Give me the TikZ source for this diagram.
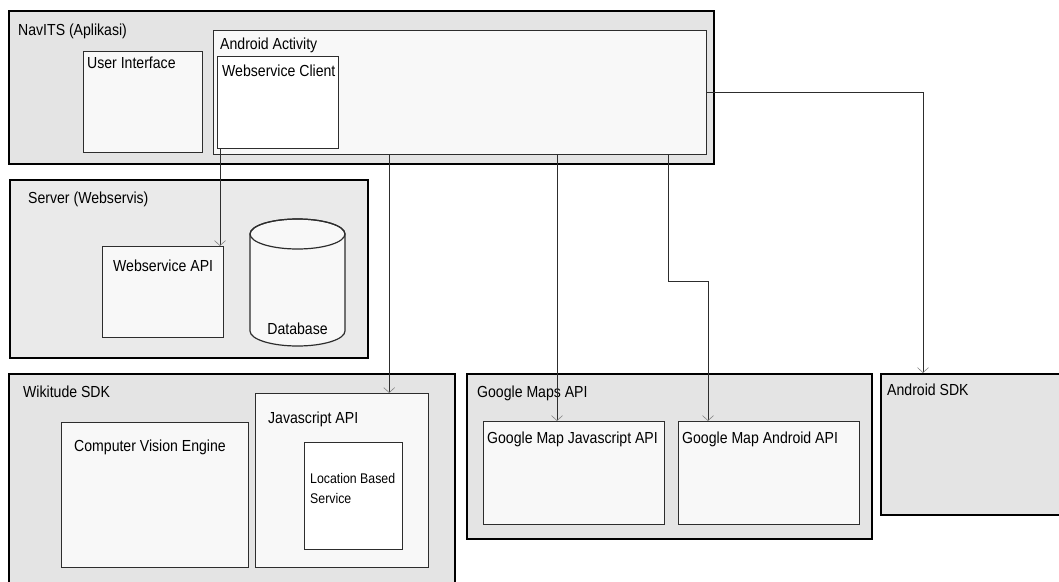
\documentclass[tikz,border=0pt]{standalone}
\usepackage{fontspec}
\setmainfont[FakeStretch=0.88]{Liberation Sans}
\usepackage{tikz}
\usetikzlibrary{arrows.meta}
\definecolor{outerfill}{RGB}{228,228,228}
\definecolor{serverfill}{RGB}{234,234,234}
\definecolor{innerfill}{RGB}{248,248,248}
\definecolor{linie}{RGB}{45,45,45}
\definecolor{pfeilspitze}{RGB}{130,130,130}

\begin{document}
\begin{tikzpicture}[x=1pt, y=-1pt,
    outer/.style={draw=black, line width=2.4pt, fill=outerfill, anchor=north west, inner sep=0pt},
    inner/.style={draw=linie, line width=1.2pt, fill=innerfill, anchor=north west, inner sep=0pt},
    lbl/.style={anchor=base west, inner sep=0pt, font=\fontsize{16}{18}\selectfont},
    small/.style={anchor=base west, inner sep=0pt, font=\fontsize{14}{16}\selectfont},
    conn/.style={draw=linie, line width=0.9pt, -{Straight Barb[length=5pt, width=11pt, line width=0.6pt, color=pfeilspitze]}}]

    \useasboundingbox (0,0) rectangle (1059,581);

        % NavITS
        \node[outer, minimum width=705pt, minimum height=153pt] (navits) at (8,10) {};
        \node[lbl] (navits-t) at ([shift={(10pt,-25pt)}]navits.north west) {NavITS (Aplikasi)};
        \node[inner, minimum width=119pt, minimum height=101pt] (ui) at (83,51) {};
        \node[lbl] (ui-t) at ([shift={(4pt,-17pt)}]ui.north west) {User Interface};
        \node[inner, minimum width=493pt, minimum height=124pt] (activity) at (213,30) {};
        \node[lbl] (activity-t) at ([shift={(7pt,-19pt)}]activity.north west) {Android Activity};
        \node[inner, fill=white, minimum width=121pt, minimum height=92pt] (wsclient) at (217,56) {};
        \node[lbl] (wsclient-t) at ([shift={(5pt,-20pt)}]wsclient.north west) {Webservice Client};

        % Server
        \node[outer, fill=serverfill, minimum width=358pt, minimum height=178pt] (server) at (9,179) {};
        \node[lbl] (server-t) at ([shift={(19pt,-24pt)}]server.north west) {Server (Webservis)};
        \node[inner, minimum width=121pt, minimum height=91pt] (wsapi) at (102,246) {};
        \node[lbl] (wsapi-t) at ([shift={(11pt,-25pt)}]wsapi.north west) {Webservice API};
        % database cylinder
        \coordinate (db) at (297.5,331);
        \draw[draw=linie, line width=1.2pt, fill=innerfill] (250,234) -- (250,331)
            arc[start angle=180, end angle=360, x radius=47.5pt, y radius=15pt] -- (345,234)
            arc[start angle=0, end angle=180, x radius=47.5pt, y radius=15pt] -- cycle;
        \draw[draw=linie, line width=1.2pt] (297.5,234) ellipse [x radius=47.5pt, y radius=15pt];
        \node[lbl, anchor=base] (db-t) at ([yshift=-3pt]db) {Database};

        % Wikitude
        \node[outer, minimum width=446pt, minimum height=230pt] (wikitude) at (8,373) {};
        \node[lbl] (wikitude-t) at ([shift={(15pt,-24pt)}]wikitude.north west) {Wikitude SDK};
        \node[inner, minimum width=187pt, minimum height=145pt] (cve) at (61,422) {};
        \node[lbl] (cve-t) at ([shift={(13pt,-29pt)}]cve.north west) {Computer Vision Engine};
        \node[inner, minimum width=173pt, minimum height=174pt] (jsapi) at (255,393) {};
        \node[lbl] (jsapi-t) at ([shift={(13pt,-30pt)}]jsapi.north west) {Javascript API};
        \node[inner, fill=white, minimum width=98pt, minimum height=107pt] (lbs) at (304,442) {};
        \node[small] (lbs-t1) at ([shift={(6pt,-41pt)}]lbs.north west) {Location Based};
        \node[small] (lbs-t2) at ([shift={(6pt,-61pt)}]lbs.north west) {Service};

        % Google Maps
        \node[outer, minimum width=405pt, minimum height=165pt] (gmaps) at (466,373) {};
        \node[lbl] (gmaps-t) at ([shift={(11pt,-24pt)}]gmaps.north west) {Google Maps API};
        \node[inner, minimum width=181pt, minimum height=103pt] (gmjs) at (483,421) {};
        \node[lbl] (gmjs-t) at ([shift={(4pt,-22pt)}]gmjs.north west) {Google Map Javascript API};
        \node[inner, minimum width=181pt, minimum height=103pt] (gma) at (678,421) {};
        \node[lbl] (gma-t) at ([shift={(4pt,-22pt)}]gma.north west) {Google Map Android API};

        % Android SDK
        \node[outer, minimum width=200pt, minimum height=141pt] (asdk) at (880,373) {};
        \node[lbl] (asdk-t) at ([shift={(7pt,-22pt)}]asdk.north west) {Android SDK};

        % connectors
        \draw[conn] ([xshift=3pt]wsclient.south west) -- ([xshift=3pt]wsclient.south west |- wsapi.north);
        \draw[conn] ([xshift=-40pt]jsapi.north east |- activity.south) -- ([xshift=-40pt]jsapi.north east);
        \draw[conn] ([xshift=74pt]gmjs.north west |- activity.south) -- ([xshift=74pt]gmjs.north west);
        \draw[conn] ([xshift=455pt]activity.south west) -- ++(0,126) -| ([xshift=30pt]gma.north west);
        \draw[conn] (activity.east) -| ([xshift=43pt]asdk.north west);

\end{tikzpicture}
\end{document}
